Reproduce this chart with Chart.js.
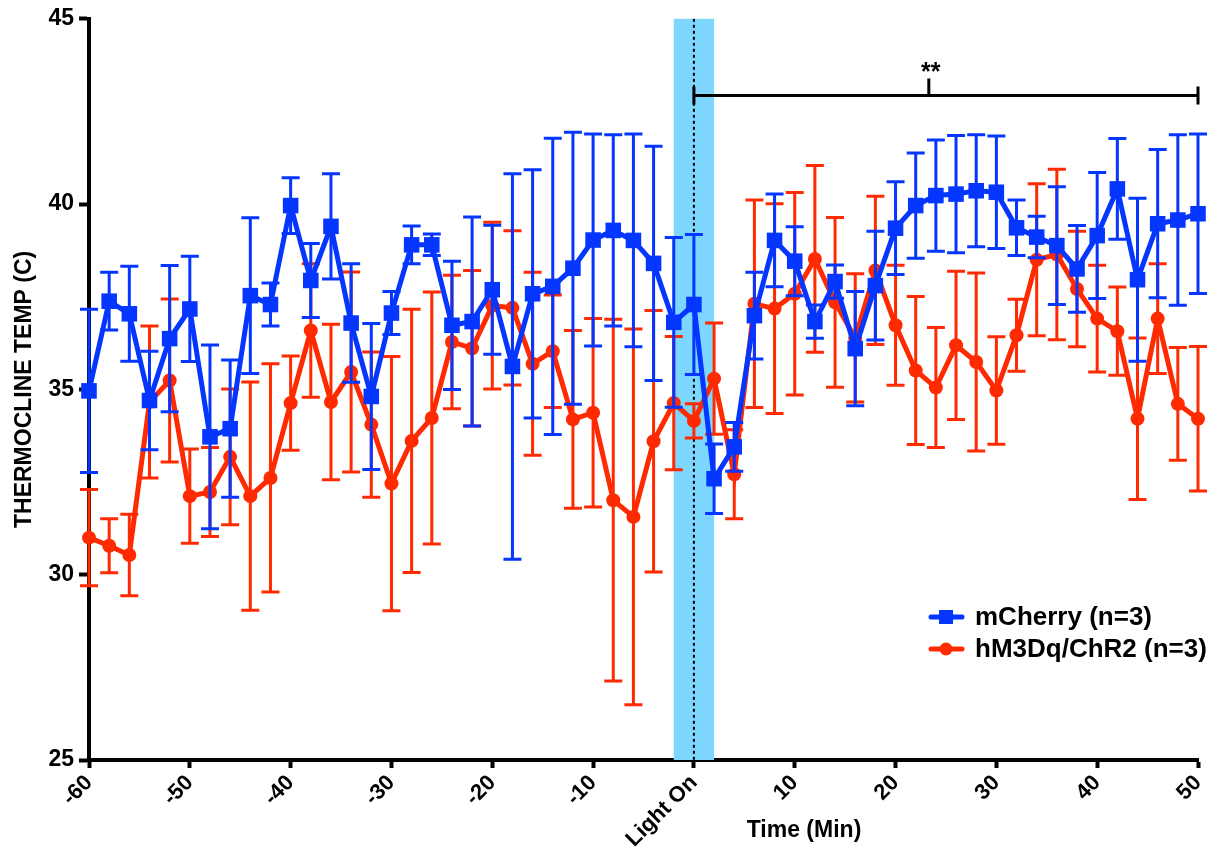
<!DOCTYPE html>
<html>
<head>
<meta charset="utf-8">
<title>Thermocline temperature</title>
<script src="https://cdn.jsdelivr.net/npm/chart.js@4.4.1/dist/chart.umd.min.js"></script>
<style>
  html, body { margin: 0; padding: 0; background: #fff; }
  #wrap { width: 1224px; height: 859px; }
</style>
</head>
<body>
<div id="wrap"><canvas id="tempChart" width="1224" height="859"></canvas></div>
<script>
// sampling times (min), 0 = light on
const times = [-60, -58, -56, -54, -52, -50, -48, -46, -44, -42,
  -40, -38, -36, -34, -32, -30, -28, -26, -24, -22,
  -20, -18, -16, -14, -12, -10, -8, -6, -4, -2,
  0, 2, 4, 6, 8, 10, 12, 14, 16, 18,
  20, 22, 24, 26, 28, 30, 32, 34, 36, 38,
  40, 42, 44, 46, 48, 50];

const mCherryMean = [34.96, 37.38, 37.04, 34.70, 36.37, 37.17, 33.72, 33.94, 37.53, 37.29,
  39.96, 37.94, 39.40, 36.79, 34.81, 37.06, 38.90, 38.90, 36.73, 36.83,
  37.69, 35.62, 37.58, 37.78, 38.27, 39.03, 39.29, 39.02, 38.40, 36.81,
  37.29, 32.59, 33.45, 36.99, 39.02, 38.46, 36.83, 37.91, 36.10, 37.80,
  39.35, 39.96, 40.23, 40.27, 40.36, 40.32, 39.36, 39.11, 38.88, 38.25,
  39.15, 40.41, 37.96, 39.47, 39.57, 39.74];
const mCherrySem = [2.20, 0.78, 1.28, 1.33, 1.97, 1.42, 2.48, 1.85, 2.10, 0.58,
  0.75, 1.00, 1.42, 1.60, 1.97, 0.58, 0.51, 0.29, 1.73, 2.82,
  1.74, 5.20, 3.35, 4.00, 3.67, 2.86, 2.58, 2.87, 3.16, 2.29,
  1.89, 0.94, 0.66, 1.17, 1.25, 0.93, 0.45, 0.45, 1.54, 1.47,
  1.25, 1.42, 1.50, 1.58, 1.51, 1.52, 0.75, 0.56, 1.59, 1.17,
  1.70, 1.36, 2.20, 2.00, 2.30, 2.15];

const hm3dqMean = [31.00, 30.78, 30.53, 34.66, 35.24, 32.12, 32.23, 33.18, 32.12, 32.61,
  34.63, 36.59, 34.66, 35.47, 34.05, 32.46, 33.61, 34.23, 36.28, 36.11,
  37.26, 37.20, 35.69, 36.03, 34.19, 34.37, 32.01, 31.56, 33.60, 34.63,
  34.15, 35.29, 32.71, 37.31, 37.18, 37.58, 38.52, 37.35, 36.39, 38.21,
  36.73, 35.51, 35.05, 36.19, 35.74, 34.97, 36.46, 38.50, 38.64, 37.71,
  36.91, 36.57, 34.21, 36.91, 34.61, 34.21];
const hm3dqSem = [1.30, 0.73, 1.10, 2.05, 2.20, 1.27, 1.20, 1.83, 3.08, 3.08,
  1.27, 1.80, 2.10, 2.70, 1.96, 3.43, 3.55, 3.40, 1.80, 2.10,
  2.25, 2.08, 2.47, 1.52, 2.40, 2.54, 4.88, 5.07, 3.53, 1.80,
  0.46, 1.50, 1.20, 2.80, 2.83, 2.73, 2.52, 2.29, 1.73, 2.00,
  1.62, 2.00, 1.62, 2.00, 2.40, 1.45, 0.97, 2.05, 2.30, 1.56,
  1.44, 1.19, 2.18, 1.48, 1.52, 1.95];

const seriesNames = ["mCherry (n=3)", "hM3Dq/ChR2 (n=3)"];

const xTickValues = [-60, -50, -40, -30, -20, -10, 0, 10, 20, 30, 40, 50];
const xTickLabels = ["-60", "-50", "-40", "-30", "-20", "-10", "Light On", "10", "20", "30", "40", "50"];
const yTickValues = [25, 30, 35, 40, 45];

// stimulation window and significance bracket (x in minutes, y in C)
const lightWindow = [-2, 2];
const bracketRange = [0, 50];
const bracketMid = 23.3;
const bracketLevel = 42.93;

const BLUE = "#0436ff";
const RED = "#ff2a00";
const FONT = "'Liberation Sans', Arial, Helvetica, sans-serif";

Chart.defaults.font.family = FONT;
Chart.defaults.color = "#000";

function points(ys) {
  return times.map((t, i) => ({ x: t, y: ys[i] }));
}

/* light-on band + dotted onset line, behind the data */
const lightBand = {
  id: "lightBand",
  beforeDatasetsDraw(chart) {
    const { ctx, chartArea, scales } = chart;
    const x0 = scales.x.getPixelForValue(lightWindow[0]);
    const x1 = scales.x.getPixelForValue(lightWindow[1]);
    const xOn = scales.x.getPixelForValue(0);
    ctx.save();
    ctx.fillStyle = "#7dd6fe";
    ctx.fillRect(x0, chartArea.top, x1 - x0, chartArea.bottom - chartArea.top);
    ctx.strokeStyle = "#000";
    ctx.lineWidth = 2;
    ctx.setLineDash([3, 3]);
    ctx.beginPath();
    ctx.moveTo(xOn, chartArea.top);
    ctx.lineTo(xOn, chartArea.bottom);
    ctx.stroke();
    ctx.restore();
  }
};

/* SEM bars, drawn just before each dataset so layering follows the lines */
const errorBars = {
  id: "errorBars",
  beforeDatasetDraw(chart, args) {
    const ds = chart.data.datasets[args.index];
    if (!ds.errors) return;
    const { ctx } = chart;
    const yScale = chart.scales.y;
    ctx.save();
    ctx.strokeStyle = ds.borderColor;
    ctx.lineWidth = 3;
    args.meta.data.forEach((pt, i) => {
      const v = ds.data[i].y;
      const e = ds.errors[i];
      const top = yScale.getPixelForValue(v + e);
      const bot = yScale.getPixelForValue(v - e);
      ctx.beginPath();
      ctx.moveTo(pt.x, top);
      ctx.lineTo(pt.x, bot);
      ctx.moveTo(pt.x - 9, top);
      ctx.lineTo(pt.x + 9, top);
      ctx.moveTo(pt.x - 9, bot);
      ctx.lineTo(pt.x + 9, bot);
      ctx.stroke();
    });
    ctx.restore();
  }
};

/* significance bracket, x title and legend */
const overlay = {
  id: "overlay",
  afterDraw(chart) {
    const { ctx, scales } = chart;
    const xa = scales.x.getPixelForValue(bracketRange[0]);
    const xb = scales.x.getPixelForValue(bracketRange[1]);
    const xm = scales.x.getPixelForValue(bracketMid);
    const yb = scales.y.getPixelForValue(bracketLevel);

    ctx.save();
    ctx.strokeStyle = "#000";
    ctx.lineWidth = 3;
    ctx.beginPath();
    ctx.moveTo(xa, yb); ctx.lineTo(xb, yb);
    ctx.moveTo(xa, yb - 9); ctx.lineTo(xa, yb + 9);
    ctx.moveTo(xb, yb - 9); ctx.lineTo(xb, yb + 9);
    ctx.moveTo(xm, yb); ctx.lineTo(xm, yb - 17);
    ctx.stroke();

    ctx.fillStyle = "#000";
    ctx.textAlign = "center";
    ctx.textBaseline = "alphabetic";
    ctx.font = "bold 25px " + FONT;
    ctx.fillText("**", xm + 2, yb - 16);

    ctx.font = "bold 23px " + FONT;
    ctx.textBaseline = "middle";
    ctx.fillText("Time (Min)", 804, 831);

    // legend
    const rows = [
      { name: seriesNames[0], color: BLUE, y: 617, square: true },
      { name: seriesNames[1], color: RED, y: 649, square: false }
    ];
    rows.forEach(r => {
      ctx.strokeStyle = r.color;
      ctx.fillStyle = r.color;
      ctx.lineWidth = 5;
      ctx.lineCap = "round";
      ctx.beginPath();
      ctx.moveTo(931, r.y);
      ctx.lineTo(962, r.y);
      ctx.stroke();
      if (r.square) {
        ctx.fillRect(946 - 7, r.y - 7, 14, 14);
      } else {
        ctx.beginPath();
        ctx.arc(946, r.y, 6.5, 0, Math.PI * 2);
        ctx.fill();
      }
      ctx.fillStyle = "#000";
      ctx.textAlign = "left";
      ctx.font = "bold 26px " + FONT;
      ctx.fillText(r.name, 975, r.y + 1);
    });
    ctx.restore();
  }
};

const ctx = document.getElementById("tempChart").getContext("2d");

new Chart(ctx, {
  type: "line",
  data: {
    datasets: [
      {
        label: seriesNames[0],
        data: points(mCherryMean),
        errors: mCherrySem,
        borderColor: BLUE,
        backgroundColor: BLUE,
        borderWidth: 5,
        pointStyle: "rect",
        pointRadius: 11,
        pointBorderWidth: 0,
        tension: 0,
        clip: false
      },
      {
        label: seriesNames[1],
        data: points(hm3dqMean),
        errors: hm3dqSem,
        borderColor: RED,
        backgroundColor: RED,
        borderWidth: 5,
        pointStyle: "circle",
        pointRadius: 7,
        pointBorderWidth: 0,
        tension: 0,
        clip: false
      }
    ]
  },
  options: {
    responsive: false,
    animation: false,
    devicePixelRatio: 1,
    layout: { padding: { top: 18, right: 26, left: 0, bottom: 0 } },
    plugins: {
      legend: { display: false },
      tooltip: { enabled: false }
    },
    scales: {
      x: {
        type: "linear",
        min: -60,
        max: 50,
        afterBuildTicks(scale) {
          scale.ticks = xTickValues.map(v => ({ value: v }));
        },
        afterFit(scale) {
          scale.height = 99;
        },
        ticks: {
          autoSkip: false,
          minRotation: 45,
          maxRotation: 45,
          padding: 2,
          font: { size: 22, weight: "bold" },
          callback: (v) => xTickLabels[xTickValues.indexOf(v)]
        },
        grid: {
          drawOnChartArea: false,
          drawTicks: true,
          tickLength: 8,
          tickWidth: 4,
          tickColor: "#000"
        },
        border: { display: true, width: 4, color: "#000" }
      },
      y: {
        min: 25,
        max: 45,
        afterBuildTicks(scale) {
          scale.ticks = yTickValues.map(v => ({ value: v }));
        },
        afterFit(scale) {
          scale.width = 89;
        },
        ticks: {
          padding: 5,
          font: { size: 23, weight: "bold" }
        },
        grid: {
          drawOnChartArea: false,
          drawTicks: true,
          tickLength: 10,
          tickWidth: 4,
          tickColor: "#000"
        },
        border: { display: true, width: 4, color: "#000" },
        title: {
          display: true,
          text: "THERMOCLINE TEMP (C)",
          font: { size: 23, weight: "bold" },
          padding: { top: 11, bottom: 0 }
        }
      }
    }
  },
  plugins: [lightBand, errorBars, overlay]
});
</script>
</body>
</html>
